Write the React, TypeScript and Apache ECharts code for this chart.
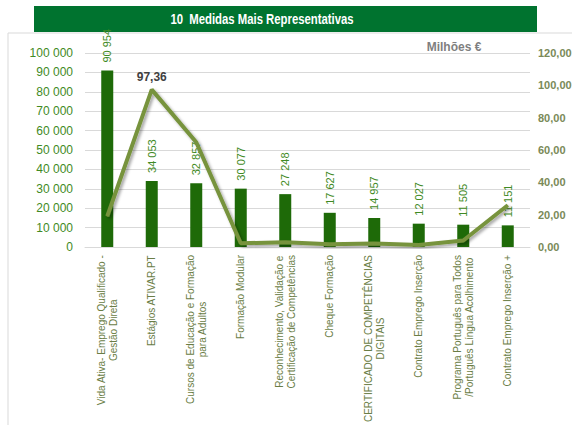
import React, { useEffect, useRef } from "react";
import * as echarts from "echarts";

const categories = [
  "Vida Ativa- Emprego Qualificado -\nGestão Direta",
  "Estágios ATIVAR.PT",
  "Cursos de Educação e Formação\npara Adultos",
  "Formação Modular",
  "Reconhecimento, Validação e\nCertificação de Competências",
  "Cheque Formação",
  "CERTIFICADO DE COMPETÊNCIAS\nDIGITAIS",
  "Contrato Emprego Inserção",
  "Programa Português para Todos\n/Português Língua Acolhimento",
  "Contrato Emprego Inserção +",
];
const participants = [90954, 34053, 32857, 30077, 27248, 17627, 14957, 12027, 11505, 11151];
const millions = [19, 97.36, 64.8, 2.3, 2.9, 1.7, 2.1, 1.3, 4, 25.8];
const labeledLineIndex = [1];

const thousands = (v: number) => String(Math.round(v)).replace(/\B(?=(\d{3})+(?!\d))/g, " ");
const decimal2 = (v: number) => v.toFixed(2).replace(".", ",");

const FONT = "'Liberation Sans', Arial, sans-serif";

export default function App() {
  const ref = useRef<HTMLDivElement>(null);
  useEffect(() => {
    if (!ref.current) return;
    const chart = echarts.init(ref.current, undefined, { renderer: "svg" });
    chart.setOption({
      animation: false,
      textStyle: { fontFamily: FONT },
      grid: {
        left: 85,
        top: 53,
        width: 445,
        height: 194,
        containLabel: false,
        outerBoundsMode: "none",
      },
      graphic: [
        {
          type: "rect",
          shape: { x: 8, y: 33, width: 600, height: 420 },
          style: { fill: "none", stroke: "#D9D9D9", lineWidth: 1 },
          silent: true,
        },
        {
          type: "rect",
          shape: { x: 34, y: 6, width: 503, height: 26 },
          style: { fill: "#00732F" },
        },
        {
          type: "text",
          x: 262,
          y: 19,
          scaleX: 0.81,
          style: {
            text: "10  Medidas Mais Representativas",
            fill: "#FFFFFF",
            font: `bold 14px ${FONT}`,
            textAlign: "center",
            textVerticalAlign: "middle",
          },
        },
        {
          type: "text",
          x: 454,
          y: 47,
          style: {
            text: "Milhões €",
            fill: "#7F7F7F",
            font: `bold 12px ${FONT}`,
            textAlign: "center",
            textVerticalAlign: "middle",
          },
        },
      ],
      xAxis: {
        type: "category",
        data: categories,
        axisLine: { show: true, lineStyle: { color: "#D9D9D9" } },
        axisTick: { show: false },
        axisLabel: {
          interval: 0,
          rotate: 90,
          margin: 8,
          formatter: (v: string) => v.split("\n").map((l) => `{c|${l}}`).join("\n"),
          rich: {
            c: { align: "center", fontSize: 10, lineHeight: 12, color: "#6A7D45", fontFamily: FONT },
          },
        },
      },
      yAxis: [
        {
          type: "value",
          min: 0,
          max: 100000,
          interval: 10000,
          axisLine: { show: false },
          axisTick: { show: false },
          splitLine: { lineStyle: { color: "#D9D9D9" } },
          axisLabel: { color: "#3F8A24", fontSize: 12, margin: 12, formatter: thousands, fontFamily: FONT },
        },
        {
          type: "value",
          min: 0,
          max: 120,
          interval: 20,
          axisLine: { show: false },
          axisTick: { show: false },
          splitLine: { show: false },
          axisLabel: {
            color: "#7A8A58",
            fontSize: 11,
            fontWeight: "bold",
            margin: 8,
            formatter: decimal2,
            fontFamily: FONT,
          },
        },
      ],
      series: [
        {
          type: "bar",
          data: participants,
          barWidth: 12,
          itemStyle: { color: "#1E6A08" },
          label: {
            show: true,
            position: "top",
            rotate: 90,
            align: "left",
            verticalAlign: "middle",
            distance: 8,
            color: "#3F8A24",
            fontSize: 11,
            fontFamily: FONT,
            formatter: (p: any) => thousands(p.value),
          },
        },
        {
          type: "line",
          yAxisIndex: 1,
          z: 5,
          symbol: "circle",
          symbolSize: 1,
          showSymbol: true,
          itemStyle: { color: "#77933C" },
          data: millions.map((v, i) =>
            labeledLineIndex.includes(i) ? { value: v, label: { show: true } } : v
          ),
          lineStyle: {
            color: "#77933C",
            width: 4,
            shadowColor: "rgba(0,0,0,0.35)",
            shadowBlur: 3,
            shadowOffsetX: 2,
            shadowOffsetY: 2,
          },
          label: {
            show: false,
            position: "top",
            distance: 6,
            color: "#404040",
            fontWeight: "bold",
            fontSize: 12,
            fontFamily: FONT,
            formatter: (p: any) => decimal2(p.value),
          },
        },
      ],
    });
    return () => chart.dispose();
  }, []);
  return (
    <div
      ref={ref}
      style={{ position: "fixed", left: 0, top: 0, width: 572, height: 425, background: "#FFFFFF" }}
    />
  );
}
